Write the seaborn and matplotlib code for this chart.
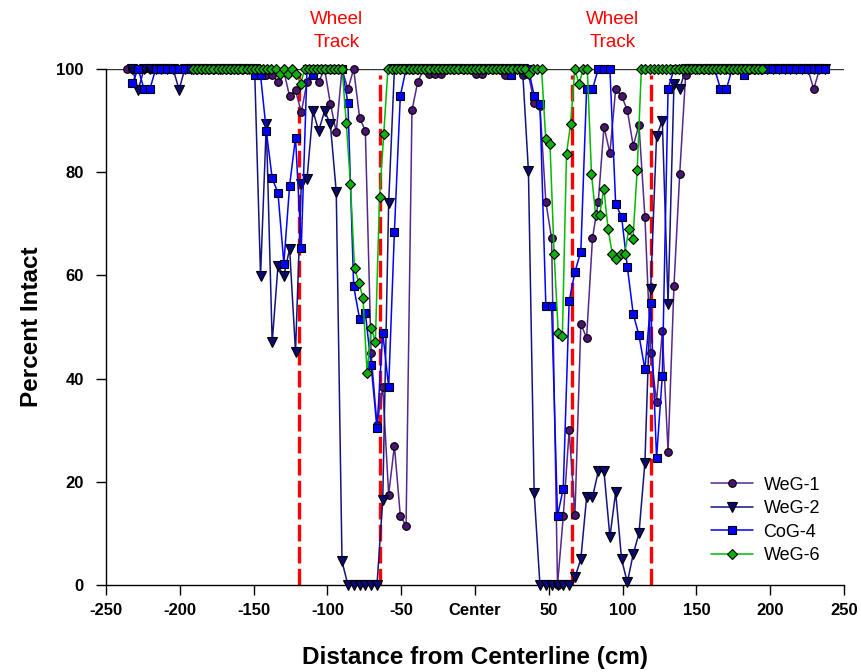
import numpy as np
import matplotlib
matplotlib.use("Agg")
import matplotlib.pyplot as plt
import seaborn as sns

# ---------------- data ----------------
# sample positions (cm from centerline)
grid_x = np.round(-232.1 + 3.945 * np.arange(-1, 120), 1)      # 121 stations
green_x = np.round(-90.0 + 2.815 * np.arange(-36, 102), 1)     # 138 stations

weg1_x = grid_x[0:120]
weg1_y = ([100] * 24 +
          [98.8, 98.8, 97.5, 99.5, 94.7, 95.9, 91.6, 97.5, 100, 97.5, 100, 93.3, 87.8, 100,
           96.1, 100, 90.6, 88.0, 45.0, 31.0, 38.3, 17.5, 27.0, 13.4, 11.5, 92.0, 97.5] +
          [100, 99, 99, 99, 100, 100, 100, 100, 100, 99, 99, 100, 100, 100, 98.8, 100, 100, 98.8, 99] +
          [93.4, 92.8, 74.2, 67.2, 0, 13.3, 30.0, 13.6, 50.6, 47.9, 67.2, 74.2, 88.8, 83.7,
           96.1, 94.8, 92.0, 85.1, 89.2, 71.4, 45.0, 35.5, 49.2, 25.8, 58.0, 79.7, 98.8] +
          [100] * 21 + [96.1, 100])

weg2_x = grid_x[1:121]
weg2_y = ([100, 96, 100, 100, 100, 100, 100, 100, 96] + [100] * 13 +
          [59.9, 89.3, 47.0, 61.8, 59.9, 65.2, 45.2, 77.7, 78.7, 91.9, 88.0, 91.9, 89.3, 76.2,
           4.6, 0, 0, 0, 0, 0, 0, 16.5, 74.0] +
          [100] * 23 +
          [80.2, 17.8, 0, 0, 0, 0, 0, 0, 1.5, 5.0, 17.0, 17.0, 22.0, 22.0, 9.3, 18.0, 5.0, 0.5,
           6.0, 10.0, 23.7, 57.4, 87.0, 90.0, 54.5, 97.1, 96.1] +
          [100] * 25)

cog4_x = grid_x[1:121]
cog4_y = ([97.3, 100, 96.1, 96.1] + [100] * 17 +
          [98.8, 98.8, 88.0, 78.8, 76.0, 62.3, 77.4, 86.7, 65.4, 100, 98.8] +
          [100] * 5 +
          [93.5, 57.9, 51.6, 52.8, 42.6, 30.4, 48.9, 38.3, 68.5, 94.8] +
          [100] * 18 + [98.8] + [100] * 3 +
          [94.8, 93.2, 54.1, 54.1, 13.4, 18.7, 55.0, 60.7, 64.6, 96.1, 96.1, 100, 100, 100,
           73.8, 71.4, 61.7, 52.5, 48.4, 41.8, 54.6, 24.6, 40.5, 96.1] +
          [100] * 8 + [96.1, 96.1, 100, 100, 98.8] + [100] * 14)

weg6_x = green_x
weg6_y = ([100] * 20 +
          [100, 99, 100, 99, 100, 99, 97.1] +
          [100] * 10 +
          [89.5, 77.8, 61.4, 58.6, 55.7, 41.1, 49.9, 47.0, 75.1, 87.5] +
          [100] * 34 + [99] + [100] * 3 +
          [86.5, 85.5, 64.2, 48.9, 48.3, 83.6, 89.4, 100, 97.1, 100, 100, 79.7, 71.8, 71.8,
           76.8, 68.9, 64.2, 63.2, 64.2, 64.2, 68.9, 67.0, 80.5] +
          [100] * 30)

wheel_x = [-119.5, -64.5, 65.5, 119.5]
wheel_label_x = [-94, 93]
x_ticks = [-250, -200, -150, -100, -50, 0, 50, 100, 150, 200, 250]
x_tick_labels = ["-250", "-200", "-150", "-100", "-50", "Center", "50", "100", "150", "200", "250"]
y_ticks = [0, 20, 40, 60, 80, 100]

# ---------------- style ----------------
sns.set_style("ticks")
plt.rcParams['font.family'] = ['Liberation Sans', 'DejaVu Sans']
plt.rcParams['text.color'] = 'black'
plt.rcParams['axes.labelcolor'] = 'black'

fig = plt.figure(figsize=(8.61, 6.72), dpi=100)
ax = fig.add_axes([106 / 861, 1 - 585 / 672, 738 / 861, 516 / 672])

# reference line at 100
ax.axhline(100, color='#333333', lw=1.0, zorder=1)

# wheel track lines
ax.vlines(wheel_x, 0, 98.8, colors='#FF0000', linestyles=(0, (5, 1.6)), lw=2.4, zorder=1.5)
for xl in wheel_label_x:
    ax.text(xl, 109.5, "Wheel", color='#FF0000', fontsize=13.5, ha='center', va='center',
            clip_on=False)
    ax.text(xl, 105.2, "Track", color='#FF0000', fontsize=13.5, ha='center', va='center',
            clip_on=False)

series = [
    (weg1_x, weg1_y, 'WeG-1', '#55288A', '#4A1470', 'o', 5.5),
    (weg2_x, weg2_y, 'WeG-2', '#14147E', '#0A0A70', 'v', 7.0),
    (cog4_x, cog4_y, 'CoG-4', '#0000FF', '#0000FF', 's', 6.0),
    (weg6_x, weg6_y, 'WeG-6', '#00BB00', '#10B010', 'D', 5.5),
]
for i, (xs, ys, lab, lc, fc, mk, ms) in enumerate(series):
    sns.lineplot(x=xs, y=ys, ax=ax, color=lc, marker=mk, markersize=ms,
                 markerfacecolor=fc, markeredgecolor='black', markeredgewidth=0.8,
                 linewidth=1.1, label=lab, estimator=None, sort=False,
                 clip_on=False, zorder=3 + i)

ax.set_xlim(-250, 250)
ax.set_ylim(0, 100)
ax.set_xticks(x_ticks)
ax.set_xticklabels(x_tick_labels)
ax.set_yticks(y_ticks)
for lbl in ax.get_xticklabels() + ax.get_yticklabels():
    lbl.set_fontweight('bold')
ax.tick_params(axis='both', direction='out', length=7, width=1, labelsize=12,
               colors='black', labelcolor='black')
ax.tick_params(axis='y', pad=9)
ax.tick_params(axis='x', pad=6)

for s in ['top', 'right']:
    ax.spines[s].set_visible(False)
for s in ['left', 'bottom']:
    ax.spines[s].set_color('black')
    ax.spines[s].set_linewidth(1.0)

ax.set_xlabel("Distance from Centerline (cm)", fontsize=17.5, fontweight='bold', color='black')
ax.set_ylabel("Percent Intact", fontsize=17.5, fontweight='bold', color='black')
ax.xaxis.set_label_coords(0.5, -0.118)
ax.yaxis.set_label_coords(-0.086, 0.5)

handles, labels = ax.get_legend_handles_labels()
leg = ax.legend(handles, labels, loc='upper left', bbox_to_anchor=(0.82, 0.21),
                frameon=False, fontsize=13, borderpad=0, borderaxespad=0,
                handlelength=2.3, handletextpad=0.6, labelspacing=0.36, numpoints=1)
for t in leg.get_texts():
    t.set_color('black')

fig.savefig("out.png", dpi=100)
